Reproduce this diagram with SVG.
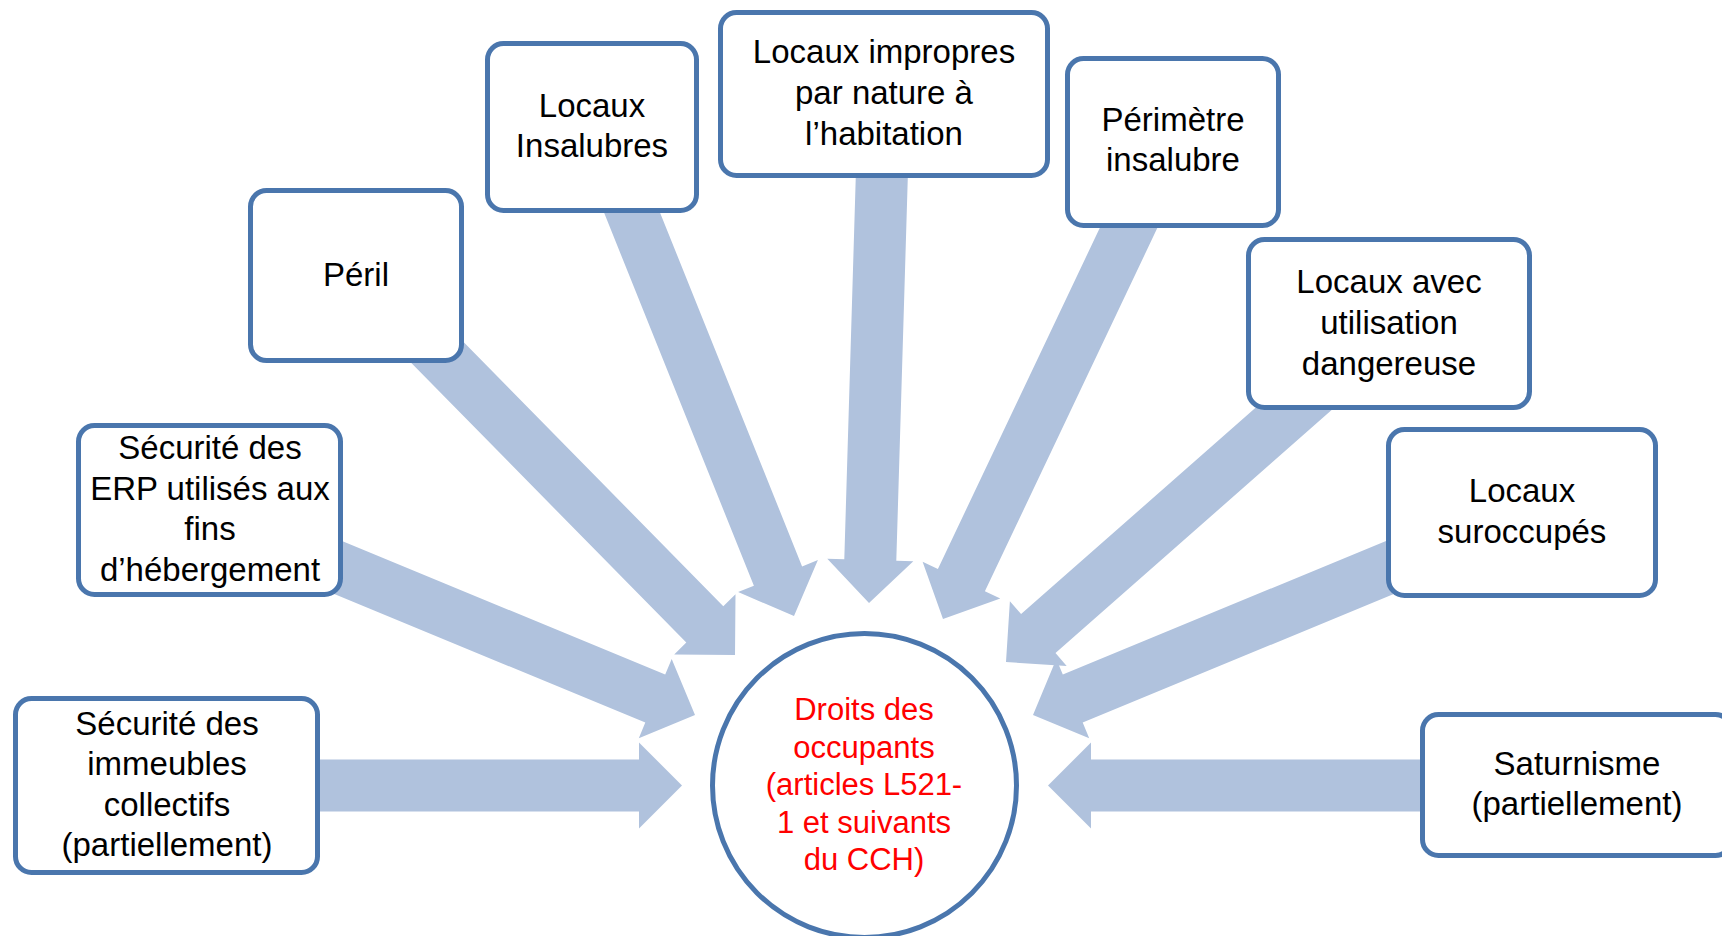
<svg xmlns="http://www.w3.org/2000/svg" width="1722" height="936" viewBox="0 0 1722 936">
<style>
.bg{fill:#ffffff}
.arrow{fill:#b0c2dd;stroke:none}
.box{fill:#ffffff;stroke:#4a76ad;stroke-width:5}
.lbl{font-family:"Liberation Sans",Arial,sans-serif;font-size:33px;fill:#000000;text-anchor:middle}
.red{font-family:"Liberation Sans",Arial,sans-serif;font-size:31px;fill:#ff0000;text-anchor:middle}
</style>
<rect class="bg" x="0" y="0" width="1722" height="936"/>
<g id="connectors">
<polygon class="arrow" points="300,811.5 639,811.5 639,828.5 682,785.5 639,742.5 639,759.5 300,759.5"/>
<polygon class="arrow" points="1440,759.5 1091,759.5 1091,742.5 1048,785.5 1091,828.5 1091,811.5 1440,811.5"/>
<polygon class="arrow" points="856.0,169.2 844.3,559.2 827.3,558.7 869,603 913.3,561.3 896.3,560.8 908.0,170.8"/>
<polygon class="arrow" points="1112.9,200.3 937.9,569.0 922.6,561.7 943,619 1000.3,598.6 984.9,591.3 1159.9,222.6"/>
<polygon class="arrow" points="310.1,584.0 645.3,722.6 638.8,738.3 695,715 671.7,658.9 665.2,674.6 329.9,536.0"/>
<polygon class="arrow" points="401,352.5 686.3,642.6 674.2,654.5 735,655 735.5,594.2 723.3,606.2 438,316.1"/>
<polygon class="arrow" points="599.3,200.8 753.9,585.8 738.1,592.1 794,616 817.9,560.1 802.1,566.4 647.5,181.4"/>
<polygon class="arrow" points="1306.6,362.8 1021.1,614.1 1009.9,601.3 1006,662 1066.7,665.9 1055.5,653.1 1341.0,401.8"/>
<polygon class="arrow" points="1417.9,584.0 1082.7,722.6 1089.2,738.3 1033,715 1056.3,658.9 1062.8,674.6 1398.1,536.0"/>
</g>
<g id="node-immeubles">
<rect class="box" x="15.5" y="698.5" width="302" height="174" rx="16"/>
<text class="lbl" x="167" y="735">Sécurité des</text>
<text class="lbl" x="167" y="775">immeubles</text>
<text class="lbl" x="167" y="816">collectifs</text>
<text class="lbl" x="167" y="856">(partiellement)</text>
</g>
<g id="node-erp">
<rect class="box" x="78.5" y="425.5" width="262" height="169" rx="16"/>
<text class="lbl" x="210" y="459">Sécurité des</text>
<text class="lbl" x="210" y="500">ERP utilisés aux</text>
<text class="lbl" x="210" y="540">fins</text>
<text class="lbl" x="210" y="581">d’hébergement</text>
</g>
<g id="node-peril">
<rect class="box" x="250.5" y="190.5" width="211" height="170" rx="16"/>
<text class="lbl" x="356" y="286">Péril</text>
</g>
<g id="node-insalubres">
<rect class="box" x="487.5" y="43.5" width="209" height="167" rx="16"/>
<text class="lbl" x="592" y="117">Locaux</text>
<text class="lbl" x="592" y="157">Insalubres</text>
</g>
<g id="node-impropres">
<rect class="box" x="720.5" y="12.5" width="327" height="163" rx="16"/>
<text class="lbl" x="884" y="63">Locaux impropres</text>
<text class="lbl" x="884" y="104">par nature à</text>
<text class="lbl" x="884" y="145">l’habitation</text>
</g>
<g id="node-perimetre">
<rect class="box" x="1067.5" y="58.5" width="211" height="167" rx="16"/>
<text class="lbl" x="1173" y="131">Périmètre</text>
<text class="lbl" x="1173" y="171">insalubre</text>
</g>
<g id="node-dangereuse">
<rect class="box" x="1248.5" y="239.5" width="281" height="168" rx="16"/>
<text class="lbl" x="1389" y="293">Locaux avec</text>
<text class="lbl" x="1389" y="334">utilisation</text>
<text class="lbl" x="1389" y="375">dangereuse</text>
</g>
<g id="node-suroccupes">
<rect class="box" x="1388.5" y="429.5" width="267" height="166" rx="16"/>
<text class="lbl" x="1522" y="502">Locaux</text>
<text class="lbl" x="1522" y="543">suroccupés</text>
</g>
<g id="node-saturnisme">
<rect class="box" x="1422.5" y="714.5" width="309" height="141" rx="16"/>
<text class="lbl" x="1577" y="775">Saturnisme</text>
<text class="lbl" x="1577" y="815">(partiellement)</text>
</g>
<g id="node-droits">
<circle class="box" cx="864.5" cy="785.5" r="152"/>
<text class="red" x="864" y="720">Droits des</text>
<text class="red" x="864" y="757.5">occupants</text>
<text class="red" x="864" y="795">(articles L521-</text>
<text class="red" x="864" y="832.5">1 et suivants</text>
<text class="red" x="864" y="870">du CCH)</text>
</g>
</svg>
